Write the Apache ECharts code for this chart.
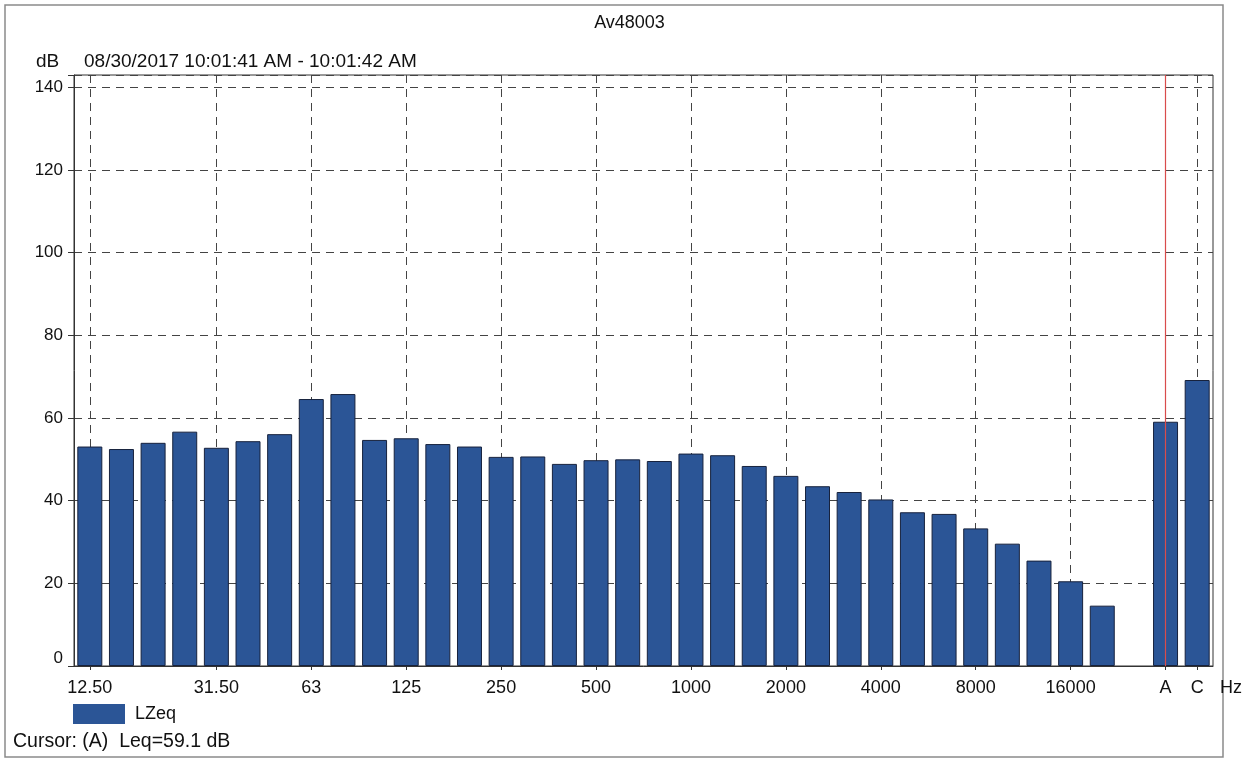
<!DOCTYPE html>
<html>
<head>
<meta charset="utf-8">
<script src="https://cdn.jsdelivr.net/npm/echarts@6/dist/echarts.min.js"></script>
<style>
  html, body { margin: 0; padding: 0; background: #fff; }
  #chart { width: 1259px; height: 762px; }
</style>
</head>
<body>
<div id="chart"></div>
<script>
// 1/3 octave bands, then an empty slot, then A / C weighted totals
const bands = ['12.50', '16', '20', '25', '31.50', '40', '50', '63', '80', '100',
  '125', '160', '200', '250', '315', '400', '500', '630', '800', '1000',
  '1250', '1600', '2000', '2500', '3150', '4000', '5000', '6300', '8000', '10000',
  '12500', '16000', '20000', '', 'A', 'C'];
const lzeq = [53.1, 52.5, 54.0, 56.7, 52.8, 54.4, 56.1, 64.6, 65.8, 54.7,
  55.1, 53.7, 53.1, 50.6, 50.7, 48.9, 49.8, 50.0, 49.6, 51.4,
  51.0, 48.4, 46.0, 43.5, 42.1, 40.3, 37.2, 36.8, 33.3, 29.6,
  25.5, 20.5, 14.6, null, 59.1, 69.2];
const labelledBands = ['12.50', '31.50', '63', '125', '250', '500', '1000', '2000',
  '4000', '8000', '16000', 'A', 'C'];
const gridBands = labelledBands.filter(b => b !== 'A'); // cursor line sits on A
const yTicks = [0, 20, 40, 60, 80, 100, 120, 140];
const cursorBand = 'A';

const font = '"Liberation Sans", Arial, sans-serif';
const dash = [8, 6];

const chart = echarts.init(document.getElementById('chart'));

const option = {
  animation: false,
  backgroundColor: '#fff',
  textStyle: { fontFamily: font, color: '#111' },
  title: {
    text: 'Av48003',
    left: 'center',
    top: 9,
    textStyle: { fontFamily: font, fontSize: 18, fontWeight: 'normal', color: '#111' }
  },
  legend: {
    left: 68,
    top: 699,
    icon: 'rect',
    itemWidth: 52,
    itemHeight: 20,
    itemGap: 8,
    itemStyle: { borderWidth: 0 },
    textStyle: { fontFamily: font, fontSize: 18, color: '#111', padding: [0, 0, 0, 5] },
    data: ['LZeq']
  },
  graphic: [
    {
      type: 'rect',
      silent: true,
      shape: { x: 5, y: 5, width: 1218, height: 752 },
      style: { fill: 'none', stroke: '#8a8a8a', lineWidth: 1.5 }
    },
    {
      type: 'text', left: 36, top: 52,
      style: { text: 'dB', font: '19px ' + font, fill: '#111' }
    },
    {
      type: 'text', left: 84, top: 52,
      style: { text: '08/30/2017 10:01:41 AM - 10:01:42 AM', font: '19px ' + font, fill: '#111' }
    },
    {
      type: 'text', left: 1220, top: 679,
      style: { text: 'Hz', font: '18px ' + font, fill: '#111' }
    },
    {
      type: 'text', left: 13, top: 732,
      style: { text: 'Cursor: (A)  Leq=59.1 dB', font: '19.5px ' + font, fill: '#111' }
    }
  ],
  grid: {
    left: 74,
    right: 46,
    top: 75,
    bottom: 96,
    show: true,
    borderColor: '#333',
    borderWidth: 1,
    backgroundColor: '#fff'
  },
  xAxis: {
    type: 'category',
    data: bands,
    boundaryGap: true,
    axisLine: { lineStyle: { color: '#333', width: 1 } },
    axisTick: {
      show: true,
      alignWithLabel: true,
      length: 4,
      interval: (i, v) => labelledBands.includes(v),
      lineStyle: { color: '#333' }
    },
    axisLabel: {
      interval: (i, v) => labelledBands.includes(v),
      fontFamily: font,
      fontSize: 18,
      color: '#111',
      margin: 13
    },
    splitLine: {
      show: true,
      alignWithLabel: true,
      interval: (i, v) => gridBands.includes(v),
      lineStyle: { color: '#444', type: dash, width: 1 }
    }
  },
  yAxis: {
    type: 'value',
    min: 0,
    max: 143,
    interval: 20,
    axisLine: { show: true, lineStyle: { color: '#333', width: 1 } },
    axisTick: { show: true, length: 6, lineStyle: { color: '#333' } },
    axisLabel: {
      fontFamily: font,
      fontSize: 17,
      color: '#111',
      margin: 11,
      // the 0 label sits a little above its tick in the original
      formatter: v => (v === 0 ? '{z|0}' : (yTicks.includes(v) ? String(v) : '')),
      rich: {
        z: { fontFamily: font, fontSize: 17, color: '#111', padding: [0, 0, 16, 0] }
      }
    },
    splitLine: {
      show: true,
      lineStyle: { color: '#444', type: dash, width: 1 }
    }
  },
  series: [
    {
      name: 'LZeq',
      type: 'bar',
      data: lzeq,
      barCategoryGap: '21%',
      itemStyle: {
        color: '#2b5596',
        borderColor: '#17223d',
        borderWidth: 1
      },
      markLine: {
        silent: true,
        symbol: 'none',
        label: { show: false },
        lineStyle: { color: '#d94c4c', type: 'solid', width: 1.2, opacity: 1 },
        data: [{ xAxis: cursorBand }]
      }
    }
  ]
};

chart.setOption(option);
</script>
</body>
</html>
